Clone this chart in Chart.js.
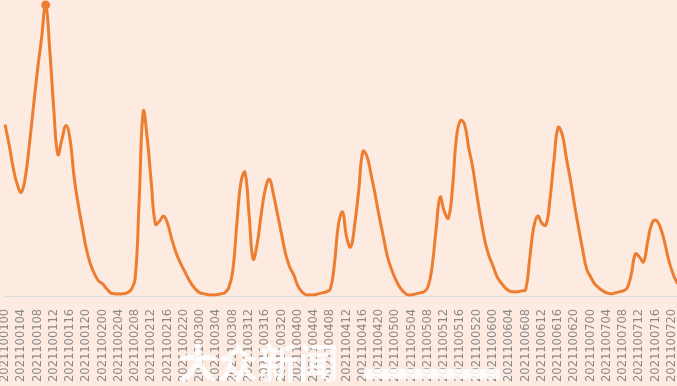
<!DOCTYPE html>
<html>
<head>
<meta charset="utf-8">
<script src="https://cdn.jsdelivr.net/npm/chart.js@4/dist/chart.umd.min.js"></script>
<style>
  html, body { margin: 0; padding: 0; overflow: hidden; background: #fdeae1; }
  #wrap { position: relative; width: 702px; height: 386px; }
</style>
</head>
<body>
<div id="wrap"><canvas id="chart"></canvas></div>
<script>
// --- dados (leitura da imagem, valores por hora) ---
const days = ['20211001', '20211002', '20211003', '20211004', '20211005', '20211006', '20211007'];
const hours = ['00','01','02','03','04','05','06','07','08','09','10','11',
               '12','13','14','15','16','17','18','19','20','21','22','23'];

const day1 = [173,153,130,113,105,120,153,191,228,260,293,248,188,143,158,172,158,120,93,70,48,33,23,16];
const day2 = [13,8,4,3,3,3,4,7,18,98,186,158,113,73,76,81,73,58,45,35,27,19,12,7];
const day3 = [4,3,2,2,2,3,4,9,26,73,115,125,83,38,53,83,108,118,103,83,63,43,30,22];
const day4 = [11,5,2,2,2,3,4,5,8,33,73,85,60,50,73,108,146,141,123,103,81,61,41,28];
const day5 = [18,10,5,2,2,3,4,5,10,30,68,100,86,79,108,160,177,173,150,130,103,78,56,41];
const day6 = [31,20,14,9,6,5,5,6,7,38,70,81,74,72,98,138,170,163,140,118,93,70,48,28];
const day7 = [20,13,9,6,4,3,4,5,6,9,23,43,40,35,55,73,77,71,58,40,26,16,10,6];

const labels = [];
days.forEach(d => hours.forEach(h => labels.push(d + h)));
const values = [].concat(day1, day2, day3, day4, day5, day6, day7);
const maxIdx = values.indexOf(Math.max(...values));

// marca d'água
const watermark = {
    id: 'watermark',
    afterDraw(chart) {
        const c = chart.ctx;
        c.save();
        c.fillStyle = 'rgba(255,255,255,0.88)';
        c.font = 'bold 40px "Noto Sans CJK SC"';
        c.textBaseline = 'alphabetic';
        c.fillText('大众新闻', 178, 378);
        c.fillStyle = 'rgba(255,255,255,0.8)';
        c.fillRect(364, 369, 136, 10);
        c.restore();
    }
};

new Chart(document.getElementById('chart'), {
    type: 'line',
    data: {
        labels: labels,
        datasets: [{
            data: values,
            borderColor: '#ed7d31',
            backgroundColor: '#ed7d31',
            borderWidth: 3,
            tension: 0.45,
            pointRadius: ctx => ctx.dataIndex === maxIdx ? 3 : 0,
            pointHoverRadius: 0,
            fill: false
        }]
    },
    options: {
        responsive: true,
        maintainAspectRatio: false,
        animation: false,
        layout: { padding: { left: 5, right: 0, top: 0, bottom: 0 } },
        plugins: { legend: { display: false }, tooltip: { enabled: false } },
        scales: {
            x: {
                grid: { display: false },
                border: { display: true, color: '#dcdcdc', width: 1 },
                ticks: {
                    autoSkip: false,
                    minRotation: 90,
                    maxRotation: 90,
                    padding: 4,
                    color: '#8a8a8a',
                    font: { family: 'DejaVu Sans', size: 11.5 },
                    callback: function (val, i) {
                        return i % 4 === 0 ? labels[i] : '';
                    }
                }
            },
            y: {
                display: false,
                min: 0,
                max: 298
            }
        }
    },
    plugins: [watermark]
});
</script>
</body>
</html>
